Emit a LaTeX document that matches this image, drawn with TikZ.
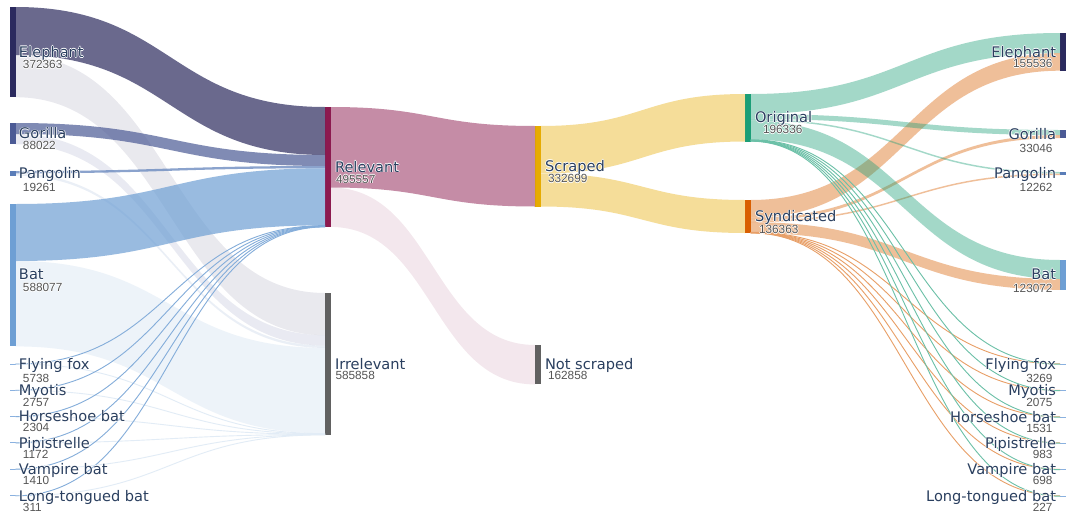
\documentclass[tikz,border=0pt]{standalone}
\usepackage{fontspec}
\setmainfont{DejaVu Sans}
\newfontfamily\numfont{Liberation Sans}
\usepackage{tikz}
\usetikzlibrary{calc,positioning}
\usepackage{color}

\definecolor{eleC}{HTML}{2B2A5E}
\definecolor{gorC}{HTML}{4B5A95}
\definecolor{panC}{HTML}{5A7DB8}
\definecolor{batC}{HTML}{6E9FD4}
\definecolor{spcC}{HTML}{8AB1E0}
\definecolor{relC}{HTML}{8C1A4F}
\definecolor{irrC}{HTML}{616161}
\definecolor{scrC}{HTML}{E6AB02}
\definecolor{oriC}{HTML}{1B9E77}
\definecolor{synC}{HTML}{D95F02}
\definecolor{labC}{HTML}{2A3F5F}
\definecolor{numC}{HTML}{555555}

\newcommand{\band}[6]{%
  \fill[#6] let \p1=($(#1.north east)+(0,#2)$), \p2=($(#3.north west)+(0,#4)$), \n1={0.5*(\x1+\x2)} in
  (\x1,\y1) .. controls (\n1,\y1) and (\n1,\y2) .. (\x2,\y2)
  -- (\x2,\y2-#5pt) .. controls (\n1,\y2-#5pt) and (\n1,\y1-#5pt) .. (\x1,\y1-#5pt) -- cycle;}
\newcommand{\thread}[5]{%
  \draw[#5] let \p1=($(#1.north east)+(0,#2)$), \p2=($(#3.north west)+(0,#4)$), \n1={0.5*(\x1+\x2)} in
  (\x1,\y1) .. controls (\n1,\y1) and (\n1,\y2) .. (\x2,\y2);}
\newcommand{\halo}[1]{{\color{white}\rlap{\kern0.7pt#1}\rlap{\kern-0.7pt#1}\rlap{\raisebox{0.7pt}{#1}}\rlap{\raisebox{-0.7pt}[0pt][0pt]{#1}}}#1}

\begin{document}
\begin{tikzpicture}[x=1pt,y=-1pt,
  bar/.style={rectangle, inner sep=0, outer sep=0, minimum width=5.5pt, anchor=north west},
  thinbar/.style={bar, minimum height=1pt, anchor=west},
  lab/.style={font=\fontsize{14.6}{16}\selectfont, text=labC, inner sep=0, outer sep=0},
  num/.style={font=\numfont\fontsize{11.8}{13}\selectfont, text=numC, inner sep=0, outer sep=0},
  spcrel/.style={draw=batC!85, line width=0.9pt},
  spcirr/.style={draw=batC!20, line width=0.9pt},
  orithr/.style={draw=oriC!65, line width=0.9pt},
  synthr/.style={draw=synC!60, line width=0.9pt}]
\useasboundingbox[fill=white] (0,0) rectangle (1068,514);

\node[bar, fill=eleC, minimum height=90.2pt] (lEle) at (10,7) {};
\node[bar, fill=gorC, minimum height=21.3pt] (lGor) at (10,123) {};
\node[bar, fill=panC, minimum height=4.7pt] (lPan) at (10,171) {};
\node[bar, fill=batC, minimum height=142.4pt] (lBat) at (10,204) {};
\node[thinbar, fill=spcC] (lFly) at (10,364) {};
\node[thinbar, fill=spcC] (lMyo) at (10,390.3) {};
\node[thinbar, fill=spcC] (lHor) at (10,416.6) {};
\node[thinbar, fill=spcC] (lPip) at (10,442.9) {};
\node[thinbar, fill=spcC] (lVam) at (10,469.2) {};
\node[thinbar, fill=spcC] (lLon) at (10,495.8) {};

\node[bar, fill=relC, minimum height=120pt] (rel) at (325,107) {};
\node[bar, fill=irrC, minimum height=141.9pt] (irr) at (325,293) {};
\node[bar, fill=scrC, minimum height=80.5pt] (scr) at (535,126) {};
\node[bar, fill=irrC, minimum height=39.4pt] (nsc) at (535,345) {};
\node[bar, fill=oriC, minimum height=47.5pt] (ori) at (745,94) {};
\node[bar, fill=synC, minimum height=33pt] (syn) at (745,200) {};

\node[bar, fill=eleC, minimum height=37.7pt] (rEle) at (1060,33) {};
\node[bar, fill=gorC, minimum height=8pt] (rGor) at (1060,130) {};
\node[bar, fill=panC, minimum height=3pt] (rPan) at (1060,172) {};
\node[bar, fill=batC, minimum height=29.8pt] (rBat) at (1060,260) {};
\node[thinbar, fill=spcC] (rFly) at (1060,364) {};
\node[thinbar, fill=spcC] (rMyo) at (1060,390.5) {};
\node[thinbar, fill=spcC] (rHor) at (1060,417) {};
\node[thinbar, fill=spcC] (rPip) at (1060,443) {};
\node[thinbar, fill=spcC] (rVam) at (1060,469.5) {};
\node[thinbar, fill=spcC] (rLon) at (1060,496) {};

\band{lEle}{48}{irr}{0}{42.2}{fill=eleC, fill opacity=0.1}
\band{lGor}{11}{irr}{42.2}{10.3}{fill=gorC, fill opacity=0.12}
\band{lPan}{2.3}{irr}{52.5}{2.4}{fill=panC, fill opacity=0.12}
\band{lBat}{57}{irr}{54.9}{85.4}{fill=batC, fill opacity=0.12}
\thread{lFly}{0.5}{irr}{140.6}{spcirr}
\thread{lMyo}{0.5}{irr}{141}{spcirr}
\thread{lHor}{0.5}{irr}{141.3}{spcirr}
\thread{lPip}{0.5}{irr}{141.5}{spcirr}
\thread{lVam}{0.5}{irr}{141.7}{spcirr}
\thread{lLon}{0.5}{irr}{141.85}{spcirr}
\band{lEle}{0}{rel}{0}{48}{fill=eleC, fill opacity=0.7}
\band{lGor}{0}{rel}{48}{11}{fill=gorC, fill opacity=0.7}
\band{lPan}{0}{rel}{59}{2.3}{fill=panC, fill opacity=0.7}
\band{lBat}{0}{rel}{61.3}{57}{fill=batC, fill opacity=0.7}
\thread{lFly}{0.5}{rel}{118.6}{spcrel}
\thread{lMyo}{0.5}{rel}{118.9}{spcrel}
\thread{lHor}{0.5}{rel}{119.2}{spcrel}
\thread{lPip}{0.5}{rel}{119.5}{spcrel}
\thread{lVam}{0.5}{rel}{119.7}{spcrel}
\thread{lLon}{0.5}{rel}{119.9}{spcrel}

\band{rel}{0}{scr}{0}{80.5}{fill=relC, fill opacity=0.5}
\band{rel}{80.5}{nsc}{0}{39.4}{fill=relC, fill opacity=0.1}
\band{scr}{0}{ori}{0}{47.5}{fill=scrC, fill opacity=0.4}
\band{scr}{47.5}{syn}{0}{33}{fill=scrC, fill opacity=0.4}

\band{syn}{0}{rEle}{20}{17.7}{fill=synC, fill opacity=0.4}
\band{syn}{17.7}{rGor}{5}{3}{fill=synC, fill opacity=0.4}
\band{syn}{20.7}{rPan}{1.5}{1.5}{fill=synC, fill opacity=0.4}
\band{syn}{22.2}{rBat}{19}{10.8}{fill=synC, fill opacity=0.4}
\band{ori}{0}{rEle}{0}{20}{fill=oriC, fill opacity=0.4}
\band{ori}{20}{rGor}{0}{5}{fill=oriC, fill opacity=0.4}
\band{ori}{25}{rPan}{0}{1.5}{fill=oriC, fill opacity=0.4}
\band{ori}{26.5}{rBat}{0}{19}{fill=oriC, fill opacity=0.4}
\thread{syn}{32.3}{rFly}{0.3}{synthr}
\thread{syn}{32.5}{rMyo}{0.3}{synthr}
\thread{syn}{32.6}{rHor}{0.3}{synthr}
\thread{syn}{32.7}{rPip}{0.3}{synthr}
\thread{syn}{32.8}{rVam}{0.3}{synthr}
\thread{syn}{32.9}{rLon}{0.3}{synthr}
\thread{ori}{45.7}{rFly}{0.7}{orithr}
\thread{ori}{46.1}{rMyo}{0.7}{orithr}
\thread{ori}{46.5}{rHor}{0.7}{orithr}
\thread{ori}{46.8}{rPip}{0.7}{orithr}
\thread{ori}{47}{rVam}{0.7}{orithr}
\thread{ori}{47.2}{rLon}{0.7}{orithr}

\node[lab, anchor=base west] (lEleT) at ([shift={(3.5pt,-5.2pt)}]lEle.east) {\halo{Elephant}};
\node[num, anchor=base west] (lEleN) at ([shift={(7.5pt,-16.2pt)}]lEle.east) {\halo{372363}};
\node[lab, anchor=base west] (lGorT) at ([shift={(3.5pt,-5.2pt)}]lGor.east) {\halo{Gorilla}};
\node[num, anchor=base west] (lGorN) at ([shift={(7.5pt,-16.2pt)}]lGor.east) {\halo{88022}};
\node[lab, anchor=base west] (lPanT) at ([shift={(3.5pt,-5.2pt)}]lPan.east) {\halo{Pangolin}};
\node[num, anchor=base west] (lPanN) at ([shift={(7.5pt,-18.2pt)}]lPan.east) {\halo{19261}};
\node[lab, anchor=base west] (lBatT) at ([shift={(3.5pt,-4.2pt)}]lBat.east) {\halo{Bat}};
\node[num, anchor=base west] (lBatN) at ([shift={(7.5pt,-16.2pt)}]lBat.east) {\halo{588077}};
\node[lab, anchor=base west] (lFlyT) at ([shift={(3.5pt,-5.2pt)}]lFly.east) {\halo{Flying fox}};
\node[num, anchor=base west] (lFlyN) at ([shift={(7.5pt,-18.2pt)}]lFly.east) {\halo{5738}};
\node[lab, anchor=base west] (lMyoT) at ([shift={(3.5pt,-5.2pt)}]lMyo.east) {\halo{Myotis}};
\node[num, anchor=base west] (lMyoN) at ([shift={(7.5pt,-16.2pt)}]lMyo.east) {\halo{2757}};
\node[lab, anchor=base west] (lHorT) at ([shift={(3.5pt,-5.2pt)}]lHor.east) {\halo{Horseshoe bat}};
\node[num, anchor=base west] (lHorN) at ([shift={(7.5pt,-15.2pt)}]lHor.east) {\halo{2304}};
\node[lab, anchor=base west] (lPipT) at ([shift={(3.5pt,-5.2pt)}]lPip.east) {\halo{Pipistrelle}};
\node[num, anchor=base west] (lPipN) at ([shift={(7.5pt,-15.2pt)}]lPip.east) {\halo{1172}};
\node[lab, anchor=base west] (lVamT) at ([shift={(3.5pt,-5.2pt)}]lVam.east) {\halo{Vampire bat}};
\node[num, anchor=base west] (lVamN) at ([shift={(7.5pt,-15.2pt)}]lVam.east) {\halo{1410}};
\node[lab, anchor=base west] (lLonT) at ([shift={(3.5pt,-5.2pt)}]lLon.east) {\halo{Long-tongued bat}};
\node[num, anchor=base west] (lLonN) at ([shift={(7.5pt,-15.2pt)}]lLon.east) {\halo{311}};

\node[lab, anchor=base west] (relT) at ([shift={(4.5pt,-5.2pt)}]rel.east) {\halo{Relevant}};
\node[num, anchor=base west] (relN) at ([shift={(5.5pt,-16.2pt)}]rel.east) {\halo{495557}};
\node[lab, anchor=base west] (irrT) at ([shift={(4.5pt,-5.2pt)}]irr.east) {\halo{Irrelevant}};
\node[num, anchor=base west] (irrN) at ([shift={(5pt,-15.2pt)}]irr.east) {\halo{585858}};
\node[lab, anchor=base west] (scrT) at ([shift={(4.5pt,-5.2pt)}]scr.east) {\halo{Scraped}};
\node[num, anchor=base west] (scrN) at ([shift={(7.5pt,-16.7pt)}]scr.east) {\halo{332699}};
\node[lab, anchor=base west] (nscT) at ([shift={(4.5pt,-5.2pt)}]nsc.east) {\halo{Not scraped}};
\node[num, anchor=base west] (nscN) at ([shift={(7.5pt,-15.2pt)}]nsc.east) {\halo{162858}};
\node[lab, anchor=base west] (oriT) at ([shift={(4.5pt,-5.2pt)}]ori.east) {\halo{Original}};
\node[num, anchor=base west] (oriN) at ([shift={(12.5pt,-15.7pt)}]ori.east) {\halo{196336}};
\node[lab, anchor=base west] (synT) at ([shift={(4.5pt,-5.2pt)}]syn.east) {\halo{Syndicated}};
\node[num, anchor=base west] (synN) at ([shift={(8.5pt,-17.2pt)}]syn.east) {\halo{136363}};

\node[lab, anchor=base east] (rEleT) at ([shift={(-4pt,-5.2pt)}]rEle.west) {\halo{Elephant}};
\node[num, anchor=base east] (rEleN) at ([shift={(-7.5pt,-15.7pt)}]rEle.west) {\halo{155536}};
\node[lab, anchor=base east] (rGorT) at ([shift={(-4pt,-5.2pt)}]rGor.west) {\halo{Gorilla}};
\node[num, anchor=base east] (rGorN) at ([shift={(-7.5pt,-18.2pt)}]rGor.west) {\halo{33046}};
\node[lab, anchor=base east] (rPanT) at ([shift={(-4pt,-5.2pt)}]rPan.west) {\halo{Pangolin}};
\node[num, anchor=base east] (rPanN) at ([shift={(-7.5pt,-18.2pt)}]rPan.west) {\halo{12262}};
\node[lab, anchor=base east] (rBatT) at ([shift={(-4pt,-4.7pt)}]rBat.west) {\halo{Bat}};
\node[num, anchor=base east] (rBatN) at ([shift={(-7.5pt,-17.2pt)}]rBat.west) {\halo{123072}};
\node[lab, anchor=base east] (rFlyT) at ([shift={(-4pt,-5.2pt)}]rFly.west) {\halo{Flying fox}};
\node[num, anchor=base east] (rFlyN) at ([shift={(-7.5pt,-18.2pt)}]rFly.west) {\halo{3269}};
\node[lab, anchor=base east] (rMyoT) at ([shift={(-4pt,-5.2pt)}]rMyo.west) {\halo{Myotis}};
\node[num, anchor=base east] (rMyoN) at ([shift={(-7.5pt,-16.2pt)}]rMyo.west) {\halo{2075}};
\node[lab, anchor=base east] (rHorT) at ([shift={(-4pt,-5.2pt)}]rHor.west) {\halo{Horseshoe bat}};
\node[num, anchor=base east] (rHorN) at ([shift={(-7.5pt,-15.2pt)}]rHor.west) {\halo{1531}};
\node[lab, anchor=base east] (rPipT) at ([shift={(-4pt,-5.2pt)}]rPip.west) {\halo{Pipistrelle}};
\node[num, anchor=base east] (rPipN) at ([shift={(-7.5pt,-15.2pt)}]rPip.west) {\halo{983}};
\node[lab, anchor=base east] (rVamT) at ([shift={(-4pt,-5.2pt)}]rVam.west) {\halo{Vampire bat}};
\node[num, anchor=base east] (rVamN) at ([shift={(-7.5pt,-15.2pt)}]rVam.west) {\halo{698}};
\node[lab, anchor=base east] (rLonT) at ([shift={(-4pt,-5.2pt)}]rLon.west) {\halo{Long-tongued bat}};
\node[num, anchor=base east] (rLonN) at ([shift={(-7.5pt,-15.2pt)}]rLon.west) {\halo{227}};
\end{tikzpicture}
\end{document}
